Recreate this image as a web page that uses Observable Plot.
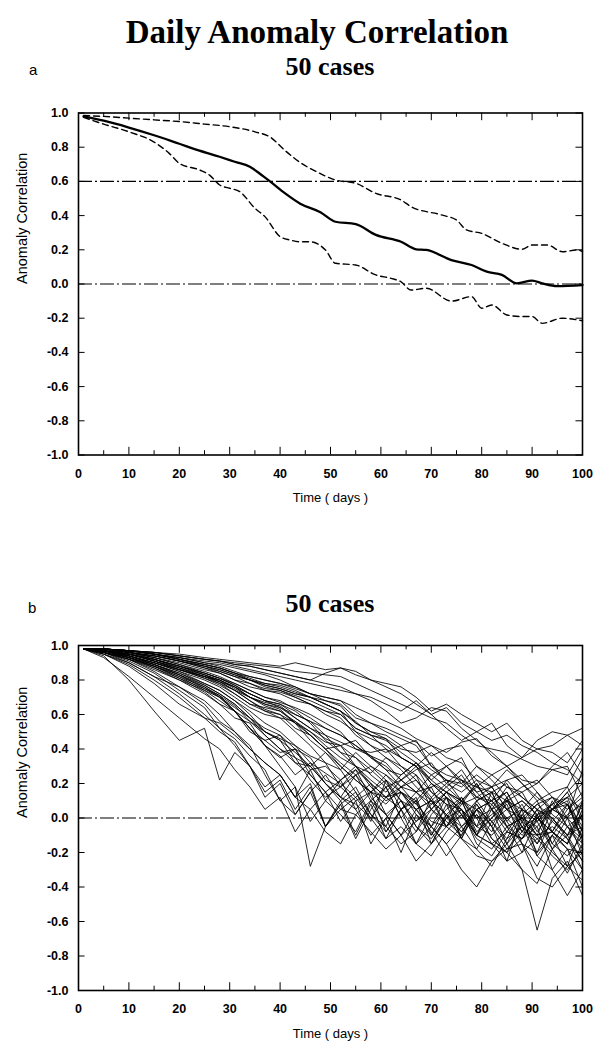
<!DOCTYPE html>
<html>
<head>
<meta charset="utf-8">
<script src="https://cdn.jsdelivr.net/npm/d3@7"></script>
<script src="https://cdn.jsdelivr.net/npm/@observablehq/plot@0.6"></script>
<style>
  html, body { margin: 0; padding: 0; background: #fff; }
  #root { position: relative; width: 596px; height: 1050px; background: #fff; overflow: hidden; }
  .t { position: absolute; white-space: nowrap; color: #000; }
  .serif { font-family: "Liberation Serif", "Times New Roman", serif; font-weight: bold; }
  .sans { font-family: "Liberation Sans", Arial, sans-serif; }
</style>
</head>
<body>
<div id="root">
  <div class="t serif" id="title" style="font-size:33px; left:0; width:634px; text-align:center; top:14px;">Daily Anomaly Correlation</div>
  <div class="t serif" style="font-size:26px; left:0; width:660px; text-align:center; top:52px;">50 cases</div>
  <div class="t sans" style="font-size:15px; left:29px; top:61px;">a</div>
  <div class="t serif" style="font-size:26px; left:0; width:660px; text-align:center; top:589px;">50 cases</div>
  <div class="t sans" style="font-size:15px; left:28px; top:599px;">b</div>
  <div id="pa" style="position:absolute; left:0; top:90px;"></div>
  <div id="pb" style="position:absolute; left:0; top:620px;"></div>
</div>
<script>
// ---------- tick values ----------
const xMajorTicks = [0, 10, 20, 30, 40, 50, 60, 70, 80, 90, 100];
const xMinorTicks = [5, 15, 25, 35, 45, 55, 65, 75, 85, 95];
const yTicks = [-1, -0.8, -0.6, -0.4, -0.2, 0, 0.2, 0.4, 0.6, 0.8, 1];

// ---------- panel a ----------
const meanDays = [1, 5, 10, 15, 20, 24, 28, 31, 34, 36, 38, 41, 44, 48, 51, 55, 59, 64, 67, 69, 74, 78, 81, 84, 87, 90, 92, 95, 100];
const meanVals = [0.98, 0.955, 0.915, 0.87, 0.82, 0.78, 0.744, 0.715, 0.686, 0.645, 0.60, 0.53, 0.47, 0.42, 0.364, 0.35, 0.287, 0.247, 0.203, 0.199, 0.14, 0.111, 0.072, 0.053, 0.004, 0.02, 0.004, -0.012, -0.006];

const upperDays = [1, 5, 10, 15, 20, 25, 30, 35, 38, 41, 44, 47, 51, 55, 59, 64, 66, 72, 75, 77, 80, 84, 88, 90, 93, 96, 99, 100];
const upperVals = [0.985, 0.98, 0.97, 0.96, 0.95, 0.935, 0.92, 0.89, 0.86, 0.78, 0.71, 0.66, 0.608, 0.589, 0.53, 0.491, 0.452, 0.404, 0.374, 0.316, 0.296, 0.238, 0.203, 0.228, 0.228, 0.189, 0.199, 0.19];

const lowerDays = [1, 5, 10, 15, 18, 20, 24, 26, 28, 30, 32, 35, 37, 40, 42, 44, 46, 49, 51, 55, 59, 62, 64, 66, 69, 74, 78, 80, 82, 85, 88, 90, 92, 96, 99, 100];
const lowerVals = [0.975, 0.935, 0.89, 0.83, 0.764, 0.706, 0.667, 0.637, 0.579, 0.56, 0.54, 0.443, 0.394, 0.277, 0.257, 0.247, 0.247, 0.199, 0.121, 0.111, 0.053, 0.033, 0.013, -0.035, -0.025, -0.10, -0.074, -0.142, -0.123, -0.181, -0.19, -0.19, -0.23, -0.20, -0.21, -0.215];

const refLinesA = [0.6, 0.0];

// ---------- panel b ----------
const bDays = [1, 5, 10, 15, 20, 25, 28, 31, 34, 37, 40, 43, 46, 49, 52, 55, 58, 61, 64, 67, 70, 73, 76, 79, 82, 85, 88, 91, 94, 97, 100];
const bCases = [
  [.98,.94,.80,.62,.45,.52,.22,.38,.30,.12,.20,.02,.15,-.05,.10,-.10,.08,-.12,.05,-.08,.12,-.05,.10,-.10,.05,-.15,.02,-.10,.10,-.05,-.18],
  [.98,.93,.82,.70,.58,.46,.40,.28,.18,.05,.12,-.08,.05,.15,-.02,.10,-.15,.00,-.20,.02,-.10,.08,-.12,.05,-.05,.12,-.08,.05,-.15,.00,.10],
  [.98,.95,.88,.78,.66,.58,.50,.44,.30,.15,.22,.05,.18,-.05,.08,-.12,.05,.18,.00,.10,-.15,.00,.12,-.05,.15,-.05,-.20,.00,-.08,.08,-.12],
  [.98,.96,.90,.82,.72,.60,.52,.46,.36,.28,.10,.18,-.02,.10,.22,.05,.15,-.08,.05,-.15,.02,.12,-.05,-.18,-.02,-.12,.05,-.22,-.10,-.28,-.05],
  [.98,.95,.89,.80,.70,.58,.55,.48,.40,.32,.25,.12,.20,-.05,.08,.15,-.02,.22,.05,.12,-.10,.02,-.12,.08,-.05,-.25,.02,.10,-.08,.05,.12],
  [.98,.96,.91,.84,.74,.64,.52,.42,.30,.18,.25,.12,.28,.10,.02,-.08,.10,.18,.00,-.15,-.05,.12,.02,-.10,.08,.15,-.02,-.20,.00,-.12,-.30],
  [.98,.95,.90,.82,.76,.66,.56,.50,.42,.25,.10,.02,.15,.25,.12,.05,-.10,.00,.10,-.05,-.15,.02,.10,.20,.05,-.08,.05,-.02,-.18,-.05,.02],
  [.98,.96,.92,.85,.76,.68,.60,.50,.40,.32,.25,.12,.05,-.08,-.15,.02,.10,-.05,.15,.05,-.08,-.22,-.10,.02,-.08,.10,-.05,-.15,.05,.12,-.08],
  [.98,.97,.93,.88,.82,.74,.68,.62,.52,.45,.38,.40,.25,.15,.05,.12,.20,.02,-.10,.05,.10,-.05,.08,.20,.05,-.05,.00,-.15,-.02,.08,-.12],
  [.98,.96,.92,.86,.80,.72,.66,.58,.55,.42,.36,.25,.32,.20,.10,.18,.02,-.08,.05,.15,.18,.00,-.08,.05,-.12,-.20,-.02,.08,.12,.00,-.22],
  [.98,.97,.93,.89,.83,.76,.70,.62,.50,.45,.48,.35,.22,.12,.18,.25,.10,.02,-.10,-.02,.05,.15,.02,-.10,.00,.08,-.15,-.28,-.10,.02,.08],
  [.98,.96,.92,.88,.81,.73,.66,.62,.56,.48,.40,.32,.25,.15,.22,.28,.12,.02,.10,-.05,-.12,.00,.05,-.15,-.22,-.08,-.12,.02,-.18,-.32,-.15],
  [.98,.97,.94,.89,.84,.77,.72,.66,.58,.50,.45,.38,.30,.20,.12,.08,.00,.12,.18,.22,.10,.02,-.08,.05,.10,-.02,.08,-.08,.05,.15,-.02],
  [.98,.96,.93,.87,.80,.74,.70,.62,.52,.42,.35,.40,.28,.30,.22,.30,.18,.10,.15,.02,-.05,-.15,-.05,.02,-.12,-.20,-.30,-.38,-.18,-.10,-.05],
  [.98,.97,.94,.90,.85,.78,.74,.68,.60,.50,.45,.32,.30,.38,.28,.15,.02,-.05,-.15,-.08,.05,-.02,-.10,.10,-.02,.05,.10,.02,-.15,-.22,-.10],
  [.98,.97,.93,.88,.83,.75,.70,.64,.58,.52,.48,.40,.35,.22,.18,.28,.20,.12,.05,.10,-.05,.05,.12,.00,-.15,-.08,-.12,.02,.05,.12,.20],
  [.98,.96,.92,.87,.81,.75,.71,.65,.56,.50,.46,.42,.36,.32,.18,.10,.15,.22,.10,-.02,.08,.12,-.12,-.18,-.28,-.12,-.05,.00,-.08,-.15,.05],
  [.98,.97,.94,.89,.84,.78,.74,.68,.62,.55,.50,.42,.32,.26,.20,.12,.00,-.12,-.05,-.15,-.22,-.08,.02,.08,-.05,-.18,-.08,.05,.00,-.10,-.25],
  [.98,.97,.93,.89,.83,.77,.72,.66,.58,.48,.40,.35,.30,.20,.12,.25,.15,.08,.18,.25,.05,.15,.10,-.08,.00,.12,-.02,-.10,-.20,-.28,-.36],
  [.98,.96,.93,.88,.82,.76,.71,.62,.52,.42,.30,.18,-.28,-.05,.05,.02,-.08,-.18,-.10,-.25,-.15,-.05,.02,-.12,-.18,-.05,.00,-.10,-.08,-.15,.02],
  [.98,.97,.95,.91,.86,.82,.78,.74,.68,.62,.60,.52,.48,.40,.32,.25,.30,.22,.15,.10,.20,.12,.05,-.05,.02,.10,-.05,-.12,-.08,-.18,-.20],
  [.98,.97,.95,.92,.88,.83,.80,.76,.70,.66,.64,.58,.52,.46,.42,.35,.25,.18,.22,.30,.15,.08,.00,.10,.15,-.02,-.15,-.20,-.10,-.18,-.30],
  [.98,.97,.94,.90,.86,.81,.77,.72,.66,.62,.58,.56,.50,.42,.35,.30,.20,.12,.15,.05,.10,.18,.25,.12,.08,-.05,-.12,.00,.08,.12,.05],
  [.98,.98,.95,.92,.87,.83,.79,.74,.70,.65,.62,.56,.48,.40,.30,.22,.15,.25,.18,.08,-.02,-.05,.05,-.10,-.15,-.25,-.20,-.12,-.22,-.30,-.18],
  [.98,.97,.95,.91,.87,.82,.80,.76,.70,.67,.65,.58,.52,.48,.38,.30,.22,.15,.25,.32,.20,.12,.05,-.05,-.10,.00,.05,.15,.02,-.05,-.12],
  [.98,.97,.94,.90,.85,.80,.76,.70,.64,.60,.58,.50,.42,.32,.28,.38,.30,.25,.15,.08,.18,.22,.10,.00,.05,.18,.12,.05,-.02,-.10,.08],
  [.98,.98,.96,.93,.89,.84,.81,.77,.72,.68,.66,.62,.55,.45,.38,.35,.28,.20,.10,.05,-.05,-.15,-.30,-.40,-.25,-.15,-.05,-.22,-.30,-.18,-.40],
  [.98,.97,.95,.91,.86,.81,.78,.72,.66,.64,.62,.55,.45,.38,.30,.22,.15,.12,.22,.28,.32,.20,.15,.22,.12,.05,.10,.02,.08,-.05,-.15],
  [.98,.97,.95,.92,.88,.84,.81,.77,.72,.68,.66,.60,.56,.52,.48,.42,.36,.32,.22,.15,.08,.15,.22,.18,.10,.00,-.10,-.02,.08,.18,.00],
  [.98,.97,.94,.90,.86,.82,.79,.74,.68,.63,.60,.55,.50,.44,.42,.30,.26,.35,.28,.18,.10,.02,-.05,.05,-.02,-.15,-.30,-.65,-.35,-.25,-.45],
  [.98,.98,.96,.93,.89,.85,.82,.78,.74,.70,.68,.63,.58,.52,.48,.42,.35,.28,.18,.15,.25,.18,.10,.18,.25,.30,.20,.12,.05,.00,-.10],
  [.98,.97,.95,.91,.87,.82,.79,.76,.72,.68,.64,.60,.56,.48,.44,.40,.38,.40,.30,.22,.12,.20,.28,.15,.05,.10,.15,.00,.05,.15,.25],
  [.98,.97,.95,.92,.88,.83,.80,.75,.70,.66,.63,.55,.48,.40,.42,.45,.35,.30,.22,.15,.05,-.05,-.12,-.22,-.25,-.18,-.15,-.35,-.40,-.28,-.20],
  [.98,.98,.96,.92,.88,.84,.81,.78,.74,.70,.67,.64,.60,.55,.50,.40,.36,.28,.25,.32,.22,.15,.08,.12,.18,.05,.00,.08,.00,-.10,.02],
  [.98,.98,.96,.94,.91,.88,.85,.82,.80,.76,.74,.71,.68,.64,.60,.52,.48,.45,.38,.32,.25,.30,.22,.15,.18,.22,.12,.05,.12,.08,-.05],
  [.98,.98,.97,.95,.92,.89,.87,.84,.80,.78,.76,.73,.70,.66,.62,.55,.50,.48,.42,.35,.28,.22,.20,.30,.22,.12,.18,.22,.12,.05,.15],
  [.98,.98,.96,.94,.91,.87,.84,.80,.78,.74,.72,.68,.66,.60,.56,.50,.46,.42,.35,.30,.38,.30,.20,.12,.10,.22,.25,.15,.05,.00,.28],
  [.98,.98,.97,.95,.92,.88,.86,.83,.80,.77,.75,.72,.70,.66,.62,.56,.48,.40,.35,.30,.20,.15,.10,.05,.10,.15,.00,-.05,.05,.10,-.15],
  [.98,.98,.96,.93,.90,.86,.84,.80,.76,.74,.73,.70,.66,.62,.58,.48,.42,.38,.42,.45,.30,.22,.18,.25,.18,.05,-.08,-.10,-.05,-.12,-.25],
  [.98,.98,.97,.95,.93,.90,.88,.85,.82,.80,.78,.75,.72,.68,.66,.58,.55,.52,.48,.44,.36,.40,.42,.30,.25,.18,.15,.20,.28,.30,.12],
  [.98,.98,.96,.94,.91,.88,.86,.83,.80,.77,.75,.72,.70,.68,.65,.55,.50,.46,.40,.38,.42,.35,.32,.22,.18,.28,.20,.10,.15,.18,.35],
  [.98,.98,.97,.95,.92,.89,.87,.84,.81,.78,.77,.74,.70,.66,.62,.50,.42,.35,.30,.25,.15,.08,.05,-.10,-.15,-.20,-.12,-.05,-.30,-.45,-.30],
  [.98,.98,.96,.94,.91,.87,.85,.82,.78,.75,.74,.70,.66,.62,.60,.52,.48,.46,.35,.30,.22,.30,.35,.18,.15,.10,.05,-.02,.05,.08,-.08],
  [.98,.98,.97,.95,.92,.89,.87,.84,.82,.80,.78,.76,.72,.70,.68,.60,.55,.50,.46,.42,.30,.25,.22,.10,.15,.20,.05,.00,-.08,-.15,.10],
  [.98,.98,.97,.96,.94,.92,.91,.90,.89,.88,.87,.85,.84,.83,.82,.78,.74,.70,.66,.62,.58,.55,.48,.42,.40,.38,.34,.30,.28,.25,.40],
  [.98,.98,.97,.96,.94,.92,.91,.89,.88,.86,.84,.82,.80,.84,.87,.85,.80,.76,.72,.66,.60,.64,.55,.50,.45,.48,.42,.38,.32,.28,.20],
  [.98,.98,.97,.95,.93,.91,.90,.88,.86,.84,.82,.80,.78,.76,.74,.72,.70,.66,.62,.68,.60,.52,.45,.50,.55,.42,.35,.40,.38,.32,.45],
  [.98,.98,.97,.96,.94,.92,.91,.89,.88,.86,.84,.82,.80,.78,.76,.72,.68,.62,.55,.58,.64,.62,.52,.45,.38,.30,.35,.45,.50,.48,.42],
  [.98,.98,.97,.96,.95,.93,.92,.91,.90,.89,.88,.90,.88,.86,.87,.83,.80,.78,.76,.70,.62,.66,.60,.55,.50,.55,.45,.40,.42,.48,.52],
  [.98,.98,.97,.95,.93,.90,.89,.87,.85,.83,.80,.76,.72,.70,.68,.64,.60,.56,.52,.46,.42,.38,.44,.46,.36,.30,.22,.20,.30,.38,.25]
];
const refLinesB = [0.0];

// ---------- helpers ----------
const pts = (days, vals) => days.map((d, i) => ({day: d, v: vals[i]}));
const fmt = d => d.toFixed(1);
const fmtX = d => String(d);

function frameMarks(yLabel) {
  return [
    Plot.ruleY(yTicks, {x1: 0, x2: 1.3, stroke: "#000", strokeWidth: 1}),
    Plot.ruleY(yTicks, {x1: 98.7, x2: 100, stroke: "#000", strokeWidth: 1}),
    Plot.ruleX(xMajorTicks, {y1: -1, y2: -0.955, stroke: "#000", strokeWidth: 1}),
    Plot.ruleX(xMinorTicks, {y1: -1, y2: -0.975, stroke: "#000", strokeWidth: 1}),
    Plot.ruleX(xMajorTicks, {y1: 1, y2: 0.955, stroke: "#000", strokeWidth: 1}),
    Plot.ruleX(xMinorTicks, {y1: 1, y2: 0.975, stroke: "#000", strokeWidth: 1}),
    Plot.frame({stroke: "#000", strokeWidth: 1.6}),
    Plot.axisY(yTicks, {tickSize: 0, tickPadding: 10, tickFormat: fmt, fontSize: 12.5, fontWeight: "bold", label: null}),
    Plot.axisX(xMajorTicks, {tickSize: 0, tickPadding: 14, tickFormat: fmtX, fontSize: 12.5, fontWeight: "bold", label: null}),
    Plot.text([yLabel], {frameAnchor: "left", dx: -56, rotate: -90, fontSize: 14.5, fill: "#000"}),
    Plot.text(["Time ( days )"], {frameAnchor: "bottom", dy: 47, fontSize: 13, fill: "#000"})
  ];
}

const common = {
  width: 596,
  height: 430,
  marginLeft: 78,
  marginRight: 14,
  x: {domain: [0, 100]},
  y: {domain: [-1, 1]},
  style: {fontFamily: "'Liberation Sans', Arial, sans-serif", color: "#000", background: "#fff", overflow: "visible"}
};

const plotA = Plot.plot({
  ...common,
  marginTop: 22.5,
  marginBottom: 65.5,
  marks: [
    Plot.ruleY(refLinesA, {stroke: "#000", strokeWidth: 1.1, strokeDasharray: "14,3,2,3"}),
    Plot.line(pts(upperDays, upperVals), {x: "day", y: "v", stroke: "#000", strokeWidth: 1.4, strokeDasharray: "6,4", curve: "monotone-x"}),
    Plot.line(pts(lowerDays, lowerVals), {x: "day", y: "v", stroke: "#000", strokeWidth: 1.4, strokeDasharray: "6,4", curve: "monotone-x"}),
    Plot.line(pts(meanDays, meanVals), {x: "day", y: "v", stroke: "#000", strokeWidth: 2.3, curve: "monotone-x"}),
    ...frameMarks("Anomaly Correlation")
  ]
});
document.getElementById("pa").appendChild(plotA);

const bData = bCases.flatMap((vals, c) => vals.map((v, j) => ({day: bDays[j], v, c})));
const plotB = Plot.plot({
  ...common,
  marginTop: 25,
  marginBottom: 60,
  marks: [
    Plot.ruleY(refLinesB, {stroke: "#000", strokeWidth: 1.1, strokeDasharray: "14,3,2,3"}),
    Plot.line(bData, {x: "day", y: "v", z: "c", stroke: "#000", strokeWidth: 0.85, curve: "linear"}),
    ...frameMarks("Anomaly Correlation")
  ]
});
document.getElementById("pb").appendChild(plotB);
</script>
</body>
</html>
